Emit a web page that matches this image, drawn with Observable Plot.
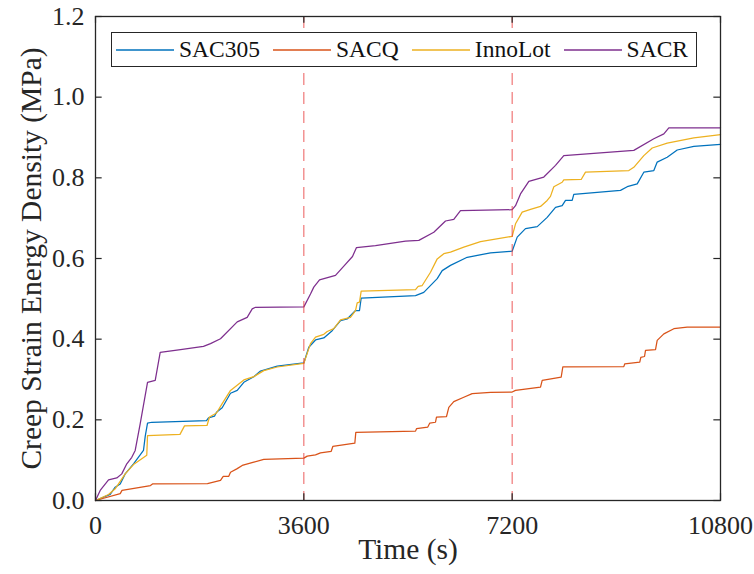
<!DOCTYPE html>
<html>
<head>
<meta charset="utf-8">
<script src="https://cdn.jsdelivr.net/npm/d3@7"></script>
<script src="https://cdn.jsdelivr.net/npm/@observablehq/plot@0.6"></script>
<style>
  body { margin: 0; background: #fff; }
  #wrap { position: relative; width: 754px; height: 574px; }
  #legend {
    position: absolute; left: 111px; top: 32px; width: 586px; height: 35px;
    box-sizing: border-box; border: 1px solid #262626; background: #fff;
    font-family: "Liberation Serif", "Times New Roman", serif; font-size: 23.5px; color: #111;
    display: flex; align-items: center; justify-content: space-between;
    padding: 0 8px 0 4px;
  }
  .item { display: flex; align-items: center; }
  .item svg { margin-right: 5px; display: block; }
</style>
</head>
<body>
<div id="wrap"><div id="chart"></div><div id="legend"></div></div>
<script>
// ---- data (time in s, creep strain energy density in MPa) ----
const seriesNames = ["SAC305", "SACQ", "InnoLot", "SACR"];
const seriesColors = ["#0072BD", "#D95319", "#EDB120", "#7E2F8E"];

const sac305 = [[0,0],[254,0.015],[340,0.033],[427,0.041],[513,0.066],[657,0.091],[829,0.124],[859,0.159],[899,0.192],[973,0.194],[1918,0.198],[1953,0.205],[2056,0.209],[2091,0.219],[2189,0.230],[2333,0.266],[2449,0.273],[2563,0.293],[2735,0.307],[2851,0.321],[3140,0.333],[3600,0.341],[3686,0.380],[3802,0.398],[3945,0.403],[4090,0.421],[4234,0.446],[4349,0.450],[4493,0.471],[4562,0.471],[4591,0.502],[5530,0.508],[5673,0.516],[5905,0.550],[5991,0.570],[6134,0.583],[6423,0.603],[6826,0.614],[7200,0.618],[7287,0.653],[7430,0.674],[7633,0.679],[7805,0.702],[7949,0.727],[8064,0.731],[8122,0.744],[8237,0.744],[8265,0.759],[9072,0.769],[9188,0.778],[9361,0.785],[9475,0.814],[9648,0.818],[9706,0.839],[9879,0.851],[10052,0.869],[10339,0.878],[10800,0.883]];

const sacq = [[0,0],[427,0.017],[458,0.025],[950,0.037],[985,0.041],[1935,0.042],[2160,0.050],[2207,0.060],[2303,0.060],[2333,0.070],[2449,0.079],[2535,0.087],[2735,0.095],[2908,0.102],[3600,0.105],[3658,0.110],[3802,0.113],[3888,0.118],[4073,0.122],[4101,0.134],[4481,0.142],[4498,0.169],[5530,0.172],[5547,0.178],[5742,0.182],[5777,0.192],[5875,0.194],[5892,0.207],[6065,0.208],[6105,0.231],[6191,0.245],[6364,0.256],[6509,0.265],[6826,0.268],[7200,0.269],[7258,0.273],[7690,0.281],[7719,0.298],[8047,0.306],[8075,0.331],[9129,0.332],[9146,0.339],[9405,0.343],[9423,0.355],[9487,0.357],[9504,0.372],[9677,0.374],[9706,0.397],[9821,0.413],[9994,0.426],[10224,0.430],[10800,0.430]];

const innolot = [[0,0],[225,0.015],[340,0.029],[513,0.066],[657,0.089],[886,0.112],[899,0.161],[1460,0.164],[1538,0.185],[1927,0.186],[1970,0.207],[2091,0.217],[2189,0.240],[2333,0.273],[2563,0.299],[2735,0.307],[2908,0.322],[3140,0.331],[3600,0.340],[3715,0.389],[3802,0.405],[3945,0.412],[4004,0.419],[4118,0.426],[4234,0.448],[4406,0.454],[4493,0.471],[4522,0.490],[4562,0.492],[4591,0.519],[5530,0.523],[5576,0.531],[5645,0.533],[5789,0.566],[5905,0.599],[6019,0.612],[6134,0.616],[6364,0.628],[6653,0.642],[7200,0.655],[7258,0.686],[7373,0.715],[7517,0.722],[7690,0.729],[7805,0.744],[7862,0.754],[7920,0.778],[8064,0.789],[8092,0.795],[8393,0.796],[8467,0.814],[9216,0.818],[9302,0.826],[9475,0.855],[9620,0.874],[9879,0.886],[10339,0.899],[10800,0.907]];

const sacr = [[0,0],[81,0.025],[225,0.051],[368,0.056],[454,0.066],[541,0.091],[627,0.107],[686,0.124],[772,0.190],[899,0.293],[1032,0.298],[1118,0.367],[1469,0.374],[1866,0.382],[1987,0.389],[2160,0.401],[2449,0.443],[2621,0.454],[2708,0.475],[2765,0.479],[3600,0.480],[3715,0.512],[3772,0.529],[3871,0.547],[4147,0.558],[4303,0.583],[4441,0.605],[4510,0.627],[4838,0.632],[5357,0.643],[5587,0.645],[5846,0.665],[6048,0.693],[6191,0.697],[6307,0.719],[7200,0.721],[7258,0.731],[7344,0.760],[7488,0.791],[7747,0.802],[7949,0.831],[8092,0.855],[9302,0.868],[9648,0.897],[9821,0.909],[9907,0.924],[10800,0.924]];

const xTicks = [0, 3600, 7200, 10800];
const yTicks = [0, 0.2, 0.4, 0.6, 0.8, 1.0, 1.2];
const phaseBoundaries = [3600, 7200];

// ---- build table ----
const seriesData = [sac305, sacq, innolot, sacr];
const rows = seriesData.flatMap((s, i) => s.map(([t, v]) => ({series: seriesNames[i], t, v})));

const FONT = '"Liberation Serif", "Times New Roman", serif';
const INK = "#262626";
const xTickLen = 115;    // inward tick length in x units
const yTickLen = 0.017;  // inward tick length in y units

const chart = Plot.plot({
  width: 754,
  height: 574,
  marginLeft: 95,
  marginRight: 34,
  marginTop: 16,
  marginBottom: 74,
  style: {fontFamily: FONT, fontSize: "26px", background: "#fff", color: INK},
  x: {domain: [0, 10800], label: null},
  y: {domain: [0, 1.2], label: null},
  color: {domain: seriesNames, range: seriesColors},
  marks: [
    Plot.line(rows, {x: "t", y: "v", z: "series", stroke: "series", strokeWidth: 1.25}),
    Plot.ruleX(phaseBoundaries, {stroke: "#e83a3a", strokeOpacity: 0.75, strokeWidth: 1.1, strokeDasharray: "12,7"}),
    // inward ticks (box style)
    Plot.ruleX(xTicks, {y1: 0, y2: yTickLen, stroke: INK, strokeWidth: 1.2}),
    Plot.ruleX(xTicks, {y1: 1.2 - yTickLen, y2: 1.2, stroke: INK, strokeWidth: 1.2}),
    Plot.ruleY(yTicks, {x1: 0, x2: xTickLen, stroke: INK, strokeWidth: 1.2}),
    Plot.ruleY(yTicks, {x1: 10800 - xTickLen, x2: 10800, stroke: INK, strokeWidth: 1.2}),
    Plot.frame({stroke: INK, strokeWidth: 1.3}),
    Plot.axisX(xTicks, {tickSize: 0, tickPadding: 15, tickFormat: d => String(d), fontSize: 26, fill: INK, label: null}),
    Plot.axisY(yTicks, {tickSize: 0, tickPadding: 11, tickFormat: d3.format(".1f"), fontSize: 26, fill: INK, label: null}),
    Plot.text(["Time (s)"], {text: d => d, frameAnchor: "bottom", textAnchor: "middle", dy: 58, fontSize: 29.5, fill: INK}),
    Plot.text(["Creep Strain Energy Density (MPa)"], {text: d => d, frameAnchor: "left", textAnchor: "middle", lineAnchor: "middle", rotate: -90, dx: -64, fontSize: 29.5, fill: INK})
  ]
});
document.getElementById("chart").appendChild(chart);

// ---- legend ----
const legend = document.getElementById("legend");
const NS = "http://www.w3.org/2000/svg";
seriesNames.forEach((name, i) => {
  const item = document.createElement("div");
  item.className = "item";
  const sw = document.createElementNS(NS, "svg");
  sw.setAttribute("width", "58");
  sw.setAttribute("height", "6");
  const ln = document.createElementNS(NS, "line");
  ln.setAttribute("x1", "0"); ln.setAttribute("x2", "58");
  ln.setAttribute("y1", "3"); ln.setAttribute("y2", "3");
  ln.setAttribute("stroke", seriesColors[i]);
  ln.setAttribute("stroke-width", "1.4");
  sw.appendChild(ln);
  const lab = document.createElement("span");
  lab.textContent = name;
  item.appendChild(sw);
  item.appendChild(lab);
  legend.appendChild(item);
});
</script>
</body>
</html>
